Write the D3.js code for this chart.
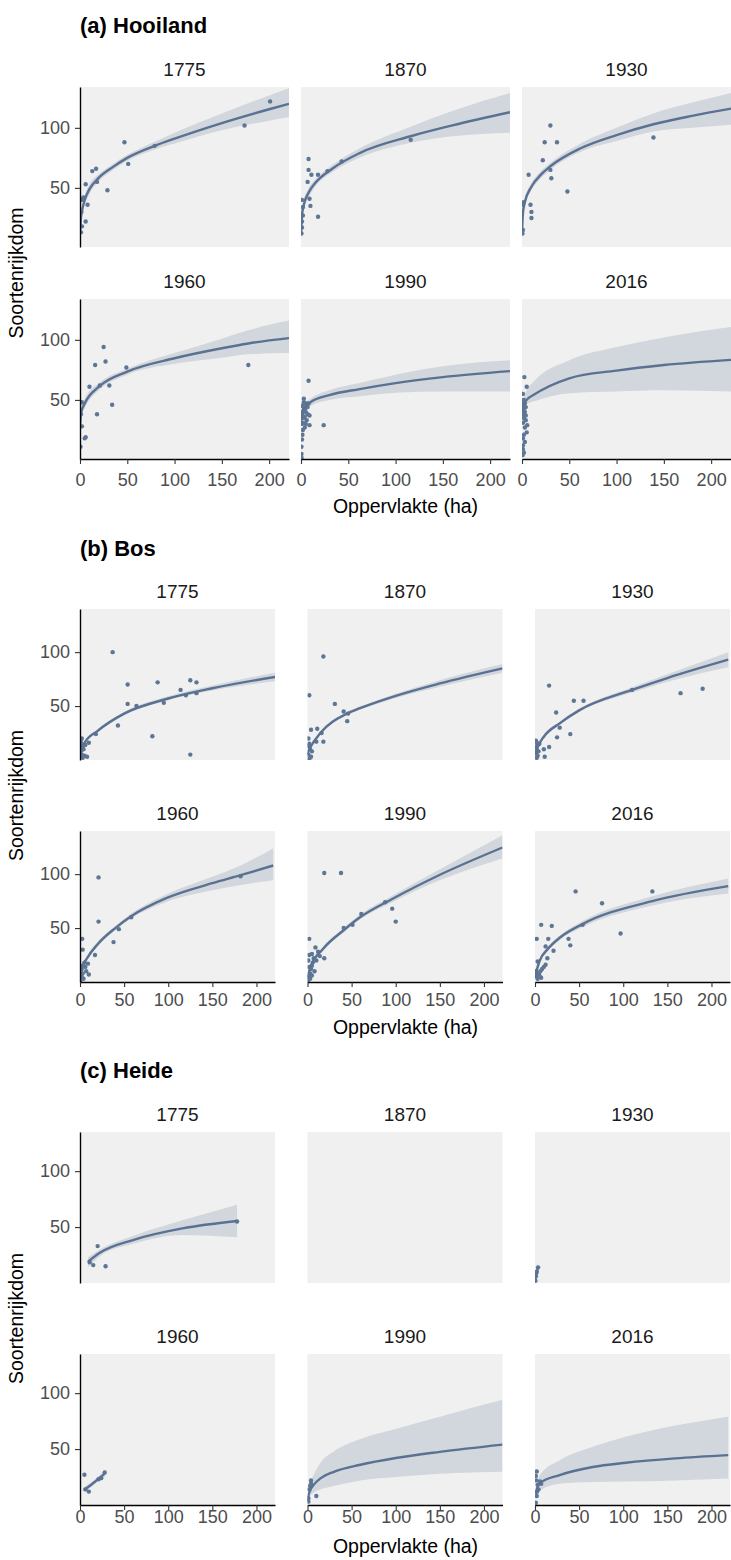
<!DOCTYPE html>
<html>
<head>
<meta charset="utf-8">
<script src="https://cdn.jsdelivr.net/npm/d3@7"></script>
<style>
  body { margin: 0; background: #fff; }
  svg { display: block; font-family: "Liberation Sans", Arial, sans-serif; }
</style>
</head>
<body>
<script>
// facet labels and ticks
var SECTIONS = ["(a) Hooiland", "(b) Bos", "(c) Heide"];
var YEARS = ["1775", "1870", "1930", "1960", "1990", "2016"];
var X_TICKS = [0, 50, 100, 150, 200];
var Y_TICKS = [50, 100];
var Y_TITLE = "Soortenrijkdom";
var X_TITLE = "Oppervlakte (ha)";

// ---- (a) Hooiland: points [area, species] ----
var hooi1775 = [[201,122],[174,102],[79,85],[47,88],[51,70],[29,48],[18,55],[17,66],[13,64],[6,53],[8,36],[3.5,42],[6,22],[2,18],[1,13],[2,40],[1.5,30]];
var hooi1870 = [[8,74],[8,65],[11,61],[7,55],[18,61],[9,41],[10,35],[18,26],[1,40],[2,34],[2,27],[1,22],[1,17],[0.5,12],[28,64],[43,72],[116,90]];
var hooi1930 = [[30,102],[24,88],[37,88],[22,73],[30,65],[7,61],[31,58],[48,47],[139,92],[9,36],[10,30],[10,25],[1.5,38],[1,36],[1,15],[0.5,12]];
var hooi1960 = [[25,94],[16,79],[27,82],[49,77],[178,79],[10,61],[21,62],[31,62],[34,46],[18,38],[6,19],[5,18],[2,28],[0.5,11],[1,38],[2,48]];
var hooi1990 = [[8,66],[24,29],[3,51],[4,47],[6,47],[8,47],[4.5,43],[2,40],[7,38],[4,36],[9,37],[2,31],[9,29],[4,27],[1.5,21],[1,17],[0.5,11],[0.5,5],[1,45],[3,42],[5,40],[6,33],[3,35],[1,30],[2,25],[5,30],[7,44],[1,38],[3,48],[0.5,2]];
var hooi2016 = [[2.5,69],[5,61],[1,55],[2,50],[3,47],[1,45],[4,44],[2,42],[3,40],[1,38],[2,35],[4,33],[1,31],[5.5,29],[3,27],[5,23],[2,21],[1,18],[3,15],[1,12],[1,9],[2,6],[0.5,4],[4,37],[2,48]];

// fitted curve: [area, fit, lower, upper]
var hooi1775Fit = [[0.1,13,8,18],[1,25,21,29],[3,34,30,38],[5,40,36,44],[10,49,45,53],[20,58.5,55.5,61.5],[35,67.5,65,70],[50,75,72.5,77.5],[79,85,82,88.5],[100,91,87,96],[150,104,98,112],[200,115.5,106,127],[221,120,109,133]];
var hooi1870Fit = [[0.1,12,6,18],[1,27,23,31],[3,36,32,40],[8,46,42,50],[15,54,51,57],[33,66,63,69],[62,79,75,83],[116,93,87.5,101],[160,102,93,114],[221,113,96,129]];
var hooi1930Fit = [[0.1,14,8,20],[1,29,25,33],[3,38,35,41],[10,51,48,54],[20,61,58,64],[30,68,65,71],[62,83,80,87],[100,94,89,100],[139,103,97,112],[180,110,100,121],[221,116,102.5,129]];
var hooi1960Fit = [[0.1,28,20,35],[1,39,35,43],[5,47,43,51],[20,61,58,64],[50,73.6,71,76],[100,84.7,80,89],[150,93,85,101],[178,97,88,108],[221,101.4,89,116]];
var hooi1990Fit = [[0.1,30,25,35],[1,38,35,41],[3,43,40,46],[10,48,45,51],[30,54,50,58],[62,59,53,64],[100,64,56,71],[150,69,57,78],[221,74,57,83]];
var hooi2016Fit = [[0.2,40,36,44],[1,44,41,48],[5,50,46.6,58],[12,54,48.6,65],[50,68,55.6,83],[100,74.4,57,94],[150,79,58,102],[221,83.3,57,110.6]];

// ---- (b) Bos ----
var bos1775 = [[37,100],[54,70],[54,52],[64,50],[88,72],[114,65],[125,74],[132,72],[120,60],[132,62],[95,53],[82,22],[125,5],[43,32],[18,24],[1,18],[2,15],[3,12],[4,10],[1,8],[2,5],[5,4],[8,3],[3,2],[6,14],[2,20],[1,12],[10,16],[0.5,3]];
var bos1870 = [[18,96],[2,60],[31,52],[41,45],[45,36],[46,43],[4,28],[11,29],[16,25],[18,17],[10,17],[1,20],[2,15],[3,10],[1,5],[4,3],[2,1],[5,8],[1,13]];
var bos1930 = [[16,69],[44,55],[55,55],[24,44],[28,30],[25,21],[40,24],[110,65],[165,62],[190,66],[16,12],[10,10],[11,3],[1,18],[2,16],[3,14],[1,12],[2,10],[4,8],[1,6],[3,4],[2,2],[5,15]];
var bos1960 = [[21,97],[21,56],[38,37],[44,49],[58,60],[182,98],[17,25],[10,7],[9,17],[2.5,40],[3,30],[1,15],[2,12],[3,8],[5,18],[4,3],[6,14],[2,5],[7,10],[1,2]];
var bos1990 = [[19,101],[38,101],[2,40],[9,32],[5,26],[14,24],[19,22],[41,50],[51,53],[61,63],[96,68],[100,56],[88,74],[1,2],[2,5],[3,8],[4,12],[5,15],[6,18],[1,20],[2,25],[8,10],[10,20],[3,3],[12,28],[5,6],[7,22],[2,14]];
var bos2016 = [[46,84],[133,84],[76,73],[97,45],[54,53],[7,53],[19,52],[2,40],[15,40],[38,40],[40,34],[12,33],[21,29],[14,22],[3,19],[2,5],[4,8],[6,10],[8,12],[10,14],[3,3],[5,6],[1,10],[12,16],[7,4]];

var bos1775Fit = [[0.2,5,4,6],[1,8.5,7.5,9.5],[5,15.5,14.5,16.5],[20,27,25.5,28.5],[50,43,41.5,44.5],[100,57,55.5,59],[150,66.5,64.5,69],[221,77,73,81]];
var bos1870Fit = [[0.2,5,3,7],[1,8,6.5,9.5],[3.4,12,10.5,13.5],[14.6,25,23.5,26.5],[44.6,43,41.5,44.5],[59.5,48,46.5,49.5],[100,59.5,57.5,61.5],[150,71,68,74],[221,85,81,89]];
var bos1930Fit = [[0.2,5,3,7],[3,12,10,14],[10,21.6,20,23.5],[28,34,32.5,35.5],[50,46,44.5,47.5],[110,65,62.5,67.5],[150,76,72.5,79.5],[219,93,86,100]];
var bos1960Fit = [[0.2,4,2,6],[2,12,10,14],[8,22,20,24],[20,35,33,37.5],[40,50,48,52],[58,61,59,63.5],[97,77.5,74,81],[150,91.6,85,97.5],[182,99,90,108],[219,108,94.4,124]];
var bos1990Fit = [[0.2,4,2,6],[3,13,11,15],[18,31,29,33],[41,48,46,50],[59.5,60,58,62.5],[96,77,74,80],[149,99,94,104],[221,124.7,114.5,136]];
var bos2016Fit = [[0.2,4,2,6],[2,11,9.5,12.5],[5,19,17,21],[15,31,29,33],[28,41,39,43],[54,53.7,51,56.5],[133,75,71,79.5],[219,88.9,82,96]];

// ---- (c) Heide ----
var heide1775 = [[20,33],[29,15],[11,18.5],[15,16],[178,55]];
var heide1870 = [];
var heide1930 = [[0.5,2],[1,6],[2,10],[3.5,14],[1.5,9]];
var heide1960 = [[5,27],[28,29],[10,12],[6,14],[21,23],[24,24]];
var heide1990 = [[4,22],[4,19],[10,8],[2,14],[1,6],[3,17],[1,3]];
var heide2016 = [[2,30],[1,26],[5.6,21],[4,14],[2,8],[1,2],[7,19],[3,18],[1.5,22],[2.5,12]];

var heide1775Fit = [[9,19,14,23],[22.5,27,24,30],[60,38.4,35,42],[116,48.8,43,56],[178,55.4,41,70]];
var heide1870Fit = [];
var heide1930Fit = [[0.5,3,1,5],[1.5,8,6,10],[3.5,14,11,18]];
var heide1960Fit = [[5,13.6,11,16],[17,20.8,19,23],[28,28,25,31]];
var heide1990Fit = [[0.2,3,1,6],[1,8,4,12],[3,13,8,19],[7,18,11,27],[15,24,14,38],[30,29.7,17,48],[60,36,22,59],[100,42,25,68],[150,47.5,28,79],[221,54,29.7,94]];
var heide2016Fit = [[1,10,5,15],[2,14,9,19],[5.6,19.6,13,26.8],[28,26.8,19,40],[65.5,34,20.5,52],[103,37.8,21,61],[159,41.7,22,71],[219,44.6,23.8,79]];

var POINTS = [
  [hooi1775, hooi1870, hooi1930, hooi1960, hooi1990, hooi2016],
  [bos1775, bos1870, bos1930, bos1960, bos1990, bos2016],
  [heide1775, heide1870, heide1930, heide1960, heide1990, heide2016]
];
var FITS = [
  [hooi1775Fit, hooi1870Fit, hooi1930Fit, hooi1960Fit, hooi1990Fit, hooi2016Fit],
  [bos1775Fit, bos1870Fit, bos1930Fit, bos1960Fit, bos1990Fit, bos2016Fit],
  [heide1775Fit, heide1870Fit, heide1930Fit, heide1960Fit, heide1990Fit, heide2016Fit]
];

// layout of each block (the three parts were pasted together, so they differ a bit)
var LAYOUT = [
  {titleY: 33,   rowTops: [87, 299],   h: 160, left: 80, w: 209, gap: 12,   yDomain: [0.8, 134], tickPad: 9.5, xTitleY: 513},
  {titleY: 556,  rowTops: [609, 831],  h: 151, left: 80, w: 195, gap: 32.5, yDomain: [0, 140],   tickPad: 6.5, xTitleY: 1034},
  {titleY: 1078, rowTops: [1132, 1354], h: 151, left: 80, w: 195, gap: 32.5, yDomain: [0, 135],  tickPad: 0,   xTitleY: 1553}
];

var WIDTH = 731, HEIGHT = 1560;
var LINE = "#5a7192";
var DOT = "#5d7695";
var PANEL_BG = "#f0f0f0";

var svg = d3.select("body").append("svg")
    .attr("width", WIDTH)
    .attr("height", HEIGHT);

SECTIONS.forEach(function(title, s) {
  var L = LAYOUT[s];
  var g = svg.append("g");

  g.append("text")
    .attr("x", 80).attr("y", L.titleY)
    .attr("font-size", 22).attr("font-weight", "bold").attr("fill", "#000")
    .text(title);

  var x = d3.scaleLinear().domain([0, 221]).range([0, L.w]);

  YEARS.forEach(function(year, i) {
    var row = Math.floor(i / 3), col = i % 3;
    var x0 = L.left + col * (L.w + L.gap);
    var top = L.rowTops[row];
    var y = d3.scaleLinear().domain(L.yDomain).range([L.h, 0]);
    var p = g.append("g").attr("transform", "translate(" + x0 + "," + top + ")");

    p.append("rect").attr("width", L.w).attr("height", L.h).attr("fill", PANEL_BG);

    var clipId = "clip" + s + "_" + i;
    p.append("clipPath").attr("id", clipId)
      .append("rect").attr("width", L.w).attr("height", L.h);
    var inner = p.append("g").attr("clip-path", "url(#" + clipId + ")");

    var fit = FITS[s][i];
    if (fit.length) {
      var area = d3.area()
          .x(function(d) { return x(d[0]); })
          .y0(function(d) { return y(d[2]); })
          .y1(function(d) { return y(d[3]); })
          .curve(d3.curveMonotoneX);
      inner.append("path").datum(fit)
        .attr("d", area)
        .attr("fill", LINE).attr("fill-opacity", 0.2);
    }

    inner.selectAll("circle").data(POINTS[s][i]).enter().append("circle")
      .attr("cx", function(d) { return x(d[0]); })
      .attr("cy", function(d) { return y(d[1]); })
      .attr("r", 2.2)
      .attr("fill", DOT);

    if (fit.length) {
      var line = d3.line()
          .x(function(d) { return x(d[0]); })
          .y(function(d) { return y(d[1]); })
          .curve(d3.curveMonotoneX);
      inner.append("path").datum(fit)
        .attr("d", line)
        .attr("fill", "none").attr("stroke", LINE).attr("stroke-width", 2.4);
    }

    // strip label
    p.append("text")
      .attr("x", L.w / 2).attr("y", -11)
      .attr("text-anchor", "middle")
      .attr("font-size", 19).attr("fill", "#1a1a1a")
      .text(year);

    if (col === 0) {
      var ya = p.append("g").call(d3.axisLeft(y).tickValues(Y_TICKS).tickSize(5).tickPadding(5).tickSizeOuter(0));
      styleAxis(ya);
    }
    if (row === 1) {
      var xa = p.append("g").attr("transform", "translate(0," + L.h + ")")
        .call(d3.axisBottom(x).tickValues(X_TICKS).tickSize(5).tickPadding(L.tickPad).tickSizeOuter(0));
      styleAxis(xa);
    }
  });

  var midY = (L.rowTops[0] + L.rowTops[1] + L.h) / 2;
  g.append("text")
    .attr("transform", "translate(23," + midY + ") rotate(-90)")
    .attr("text-anchor", "middle")
    .attr("font-size", 19.5).attr("fill", "#000")
    .text(Y_TITLE);

  g.append("text")
    .attr("x", (L.left + WIDTH) / 2).attr("y", L.xTitleY)
    .attr("text-anchor", "middle")
    .attr("font-size", 19.5).attr("fill", "#000")
    .text(X_TITLE);
});

function styleAxis(a) {
  a.select(".domain").attr("stroke", "#000").attr("stroke-width", 1.4);
  a.selectAll(".tick line").attr("stroke", "#333").attr("stroke-width", 1.1);
  a.selectAll(".tick text")
    .attr("fill", "#4d4d4d")
    .attr("font-size", 18)
    .attr("font-family", "Liberation Sans, Arial, sans-serif");
}
</script>
</body>
</html>
